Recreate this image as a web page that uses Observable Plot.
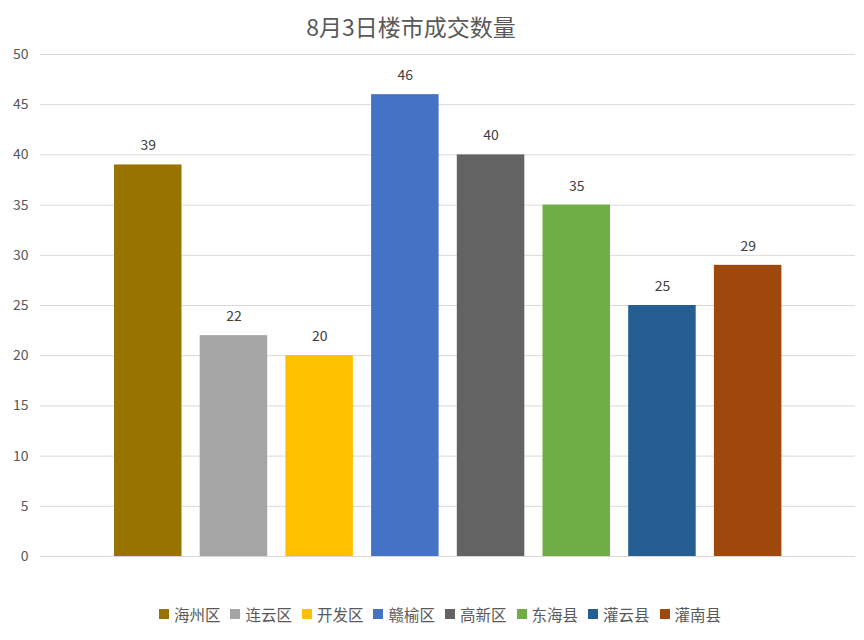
<!DOCTYPE html>
<html>
<head>
<meta charset="utf-8">
<script src="https://cdn.jsdelivr.net/npm/d3@7"></script>
<script src="https://cdn.jsdelivr.net/npm/@observablehq/plot@0.6"></script>
<style>
  body { margin: 0; background: #fff; font-family: "Noto Sans CJK SC", "Noto Sans", sans-serif; }
  #wrap { width: 864px; height: 640px; position: relative; overflow: hidden; }
  #title { height: 44px; width: 822px; text-align: center; font-size: 23px; line-height: 52px; color: #595959; }
  #legend { display: flex; justify-content: center; align-items: center; gap: 0; padding-top: 20px; padding-left: 16px; font-size: 15.5px; line-height: 20px; color: #595959; }
  .item { display: flex; align-items: center; margin: 0 5px; }
  .sw { width: 10px; height: 10px; margin-right: 5px; display: inline-block; }
</style>
</head>
<body>
<div id="wrap">
  <div id="title">8月3日楼市成交数量</div>
  <div id="chart"></div>
  <div id="legend"></div>
</div>
<script>
const districts = ["海州区", "连云区", "开发区", "赣榆区", "高新区", "东海县", "灌云县", "灌南县"];
const counts = [39, 22, 20, 46, 40, 35, 25, 29];
const colors = ["#997300", "#A5A5A5", "#FFC000", "#4472C4", "#636363", "#70AD47", "#255E91", "#9E480E"];
const yTicks = [0, 5, 10, 15, 20, 25, 30, 35, 40, 45, 50];

const data = districts.map((d, i) => ({district: d, count: counts[i]}));

const chart = Plot.plot({
  width: 864,
  height: 540,
  marginTop: 10,
  marginBottom: 28,
  marginLeft: 40,
  marginRight: 9,
  style: {fontFamily: '"Noto Sans CJK SC", "Noto Sans", sans-serif', fontSize: "14px", color: "#595959", background: "#fff"},
  x: {domain: districts, range: [95.8, 799.6], padding: 0.2124, round: false, axis: null},
  y: {domain: [0, 50], ticks: yTicks, label: null},
  color: {domain: districts, range: colors},
  marks: [
    Plot.gridY(yTicks, {stroke: "#d9d9d9", strokeOpacity: 1, strokeWidth: 1}),
    Plot.axisY(yTicks, {tickSize: 0, tickPadding: 12, label: null, fontSize: 14, fill: "#595959"}),
    Plot.barY(data, {x: "district", y: "count", fill: "district"}),
    Plot.text(data, {x: "district", y: "count", text: d => String(d.count), dy: -19, fontSize: 14, fill: "#404040"})
  ]
});
document.getElementById("chart").appendChild(chart);

const legend = document.getElementById("legend");
districts.forEach((d, i) => {
  const item = document.createElement("div");
  item.className = "item";
  const sw = document.createElement("span");
  sw.className = "sw";
  sw.style.background = colors[i];
  item.appendChild(sw);
  item.appendChild(document.createTextNode(d));
  legend.appendChild(item);
});
</script>
</body>
</html>
